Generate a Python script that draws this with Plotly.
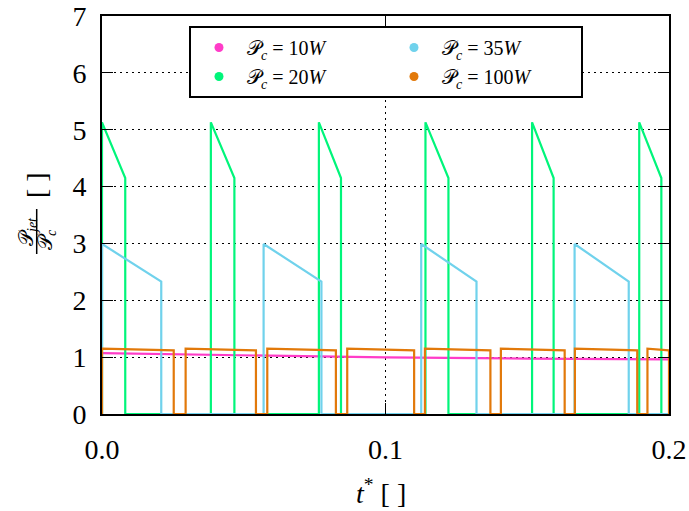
import plotly.graph_objects as go

# ---- data ----
t_max = 0.2

# P_c = 10 W : continuous, slowly decreasing
p10_t = [0.0, 0.05, 0.1, 0.15, 0.2]
p10_y = [1.07, 1.03, 0.995, 0.975, 0.96]

# P_c = 20 W : pulses
p20_start = [0.0, 0.0384, 0.0765, 0.1141, 0.1517, 0.1895]
p20_end = [0.0082, 0.0467, 0.0843, 0.1222, 0.1593, 0.1973]
p20_peak = 5.13
p20_low = 4.15

# P_c = 35 W : pulses
p35_start = [0.0, 0.057, 0.1126, 0.1667]
p35_end = [0.0209, 0.0774, 0.1321, 0.1858]
p35_peak = 2.99
p35_low = 2.33

# P_c = 100 W : pulses
p100_start = [0.0, 0.0295, 0.0583, 0.0865, 0.1139, 0.1407, 0.1668, 0.1924]
p100_end = [0.0253, 0.0543, 0.0825, 0.1101, 0.1370, 0.1632, 0.1888, 0.2]
p100_peak = 1.15
p100_low = 1.12

y_ticks = [0, 1, 2, 3, 4, 5, 6, 7]
x_ticks = [0.0, 0.1, 0.2]
x_ticktext = ["0.0", "0.1", "0.2"]

labels = {
    "10": "𝒫<sub><i>c</i></sub> = 10<i>W</i>",
    "20": "𝒫<sub><i>c</i></sub> = 20<i>W</i>",
    "35": "𝒫<sub><i>c</i></sub> = 35<i>W</i>",
    "100": "𝒫<sub><i>c</i></sub> = 100<i>W</i>",
}
colors = {"10": "#FF3CC8", "20": "#00F57A", "35": "#70D2EC", "100": "#E2790A"}


def pulses(starts, ends, peak, low, t_end):
    xs, ys = [], []
    for s, e in zip(starts, ends):
        xs += [s, s, e, e]
        ys += [0, peak, low, 0]
    if xs[-1] < t_end:
        xs.append(t_end)
        ys.append(0)
    return xs, ys


FONT = "Liberation Serif"
fig = go.Figure()

series = [
    ("10", p10_t, p10_y),
    ("20",) + pulses(p20_start, p20_end, p20_peak, p20_low, t_max),
    ("35",) + pulses(p35_start, p35_end, p35_peak, p35_low, t_max),
    ("100",) + pulses(p100_start, p100_end, p100_peak, p100_low, t_max),
]
for key, xs, ys in series:
    fig.add_trace(go.Scatter(x=xs, y=ys, mode="lines", showlegend=False,
                             line=dict(color=colors[key], width=2.2)))

# legend entries (row-wise: 10, 35 / 20, 100)
for key in ["10", "35", "20", "100"]:
    fig.add_trace(go.Scatter(x=[None], y=[None], mode="markers", name=labels[key],
                             marker=dict(color=colors[key], size=9)))

axis_common = dict(
    showline=True, linecolor="black", linewidth=2, mirror="ticks",
    ticks="inside", ticklen=11, tickwidth=1.2, tickcolor="black",
    showgrid=True, gridcolor="black", gridwidth=1, griddash="2px,4px",
    zeroline=False, automargin=False,
    tickfont=dict(family=FONT, size=28, color="black"),
)

fig.update_xaxes(range=[0, t_max], tickvals=x_ticks, ticktext=x_ticktext,
                 ticklabelstandoff=9, **axis_common)
fig.update_yaxes(range=[0, 7], tickvals=y_ticks, ticklabelstandoff=8, **axis_common)

W_PLOT, H_PLOT, L, T = 567, 398, 102, 16
FIG_W, FIG_H = 689, 511


def px(x):
    return (x - L) / W_PLOT


def py(y):
    return (T + H_PLOT - y) / H_PLOT


def ann(text, x, y, size, angle=0):
    return dict(text=text, x=px(x), y=py(y), xref="paper", yref="paper",
                xanchor="center", yanchor="middle", textangle=angle,
                showarrow=False, font=dict(family=FONT, size=size, color="black"))


annotations = [
    ann("<i>t</i><sup>*</sup> [ ]", 381, 491, 28),
    ann("[ ]", 36, 185, 28, -90),
    ann("𝒫<sub><i>jet</i></sub>", 27, 232, 20, -90),
    ann("𝒫<sub><i>c</i></sub>", 46, 240, 20, -90),
]

fig.update_layout(
    width=FIG_W, height=FIG_H,
    margin=dict(l=L, r=FIG_W - L - W_PLOT, t=T, b=FIG_H - T - H_PLOT, autoexpand=False),
    paper_bgcolor="white", plot_bgcolor="white",
    annotations=annotations,
    shapes=[dict(type="line", xref="paper", yref="paper", x0=px(36.7), x1=px(36.7),
                 y0=py(254), y1=py(209), line=dict(color="black", width=1.5))],
    legend=dict(orientation="h", x=px(189), y=py(26), xanchor="left", yanchor="top",
                bgcolor="white", bordercolor="black", borderwidth=2,
                font=dict(family=FONT, size=20, color="black"),
                itemwidth=46,
                entrywidth=134, entrywidthmode="pixels", traceorder="normal"),
    showlegend=True,
)

fig.write_html("out.html", config={"displayModeBar": False},
               post_script="document.body.style.margin='0';")
